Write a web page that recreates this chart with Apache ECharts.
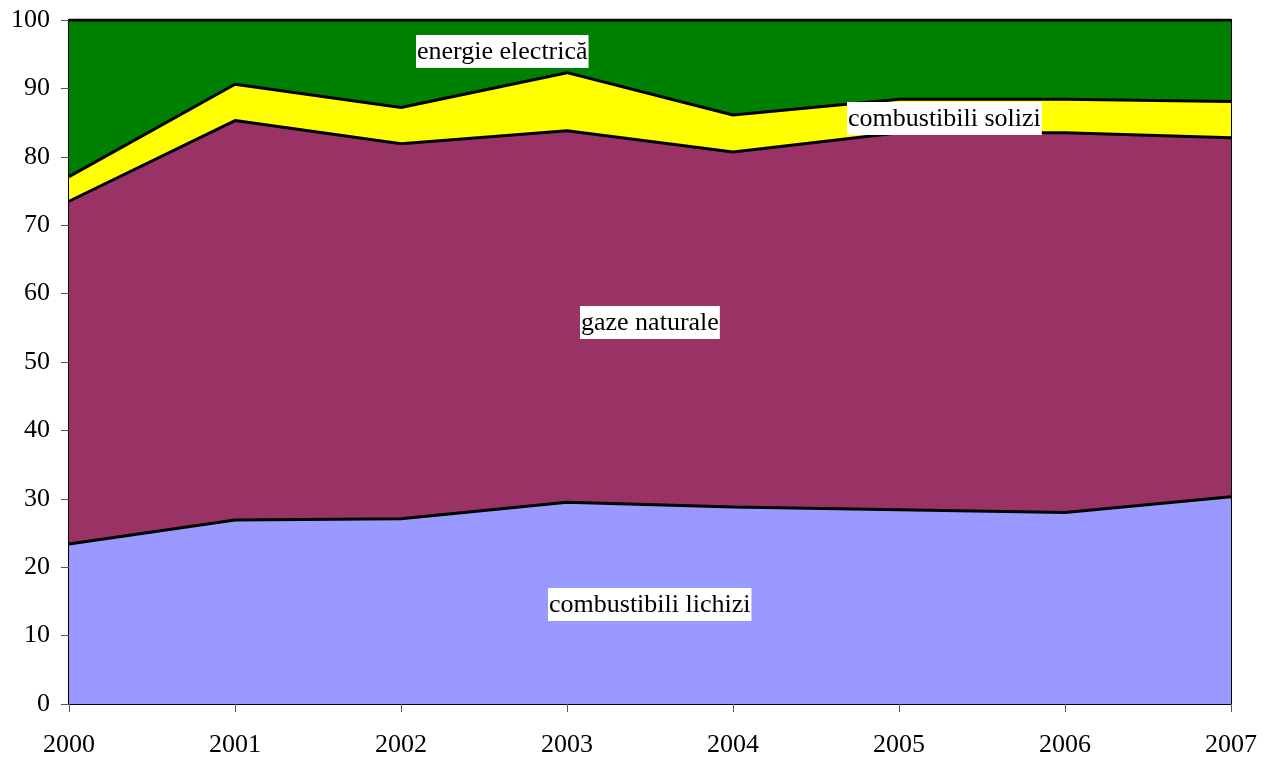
<!DOCTYPE html>
<html>
<head>
<meta charset="utf-8">
<script src="https://cdn.jsdelivr.net/npm/echarts@6/dist/echarts.min.js"></script>
<style>
html, body { margin: 0; padding: 0; background: #fff; }
#chart { width: 1267px; height: 758px; }
</style>
</head>
<body>
<div id="chart"></div>
<script>
var years = ['2000', '2001', '2002', '2003', '2004', '2005', '2006', '2007']
var lichizi = [23.4, 26.9, 27.1, 29.5, 28.8, 28.4, 28.0, 30.3]
var gaze = [50.1, 58.4, 54.8, 54.3, 51.9, 55.1, 55.5, 52.5]
var solizi = [3.6, 5.3, 5.3, 8.5, 5.4, 4.9, 4.9, 5.3]
var electrica = [22.9, 9.4, 12.8, 7.7, 13.9, 11.6, 11.6, 11.9]

var font = '"Liberation Serif", "Times New Roman", serif'

function area(name, data, color) {
	return {
		name: name,
		type: 'line',
		stack: 'total',
		data: data,
		symbol: 'none',
		lineStyle: { color: '#000', width: 3 },
		areaStyle: { color: color, opacity: 1 },
		itemStyle: { color: color }
	}
}

function tag(text, x, y) {
	return {
		type: 'text',
		left: x,
		top: y,
		z: 100,
		style: {
			text: text,
			fill: '#000',
			font: '26px ' + font,
			backgroundColor: '#fff',
			padding: [4, 1, 3, 1]
		}
	}
}

var myChart = echarts.init(document.getElementById('chart'))
myChart.setOption({
	animation: false,
	grid: {
		left: 69, right: 36, top: 20, bottom: 54,
		show: true, borderColor: '#000', borderWidth: 2, backgroundColor: 'transparent'
	},
	xAxis: {
		type: 'category',
		data: years,
		boundaryGap: false,
		axisLine: { lineStyle: { color: '#000', width: 2 } },
		axisTick: { alignWithLabel: true, length: 8, lineStyle: { color: '#555' } },
		axisLabel: { color: '#000', fontFamily: font, fontSize: 26, margin: 28 },
		splitLine: { show: false }
	},
	yAxis: {
		type: 'value',
		min: 0, max: 100, interval: 10,
		axisLine: { show: true, lineStyle: { color: '#000', width: 2 } },
		axisTick: { show: true, length: 8, lineStyle: { color: '#555' } },
		axisLabel: { color: '#000', fontFamily: font, fontSize: 26, margin: 19 },
		splitLine: { show: false }
	},
	series: [
		area('combustibili lichizi', lichizi, '#9999FF'),
		area('gaze naturale', gaze, '#993366'),
		area('combustibili solizi', solizi, '#FFFF00'),
		area('energie electrică', electrica, '#008000')
	],
	graphic: [
		tag('energie electrică', 416, 35),
		tag('combustibili solizi', 847, 102),
		tag('gaze naturale', 580, 306),
		tag('combustibili lichizi', 548, 588)
	]
})
</script>
</body>
</html>
